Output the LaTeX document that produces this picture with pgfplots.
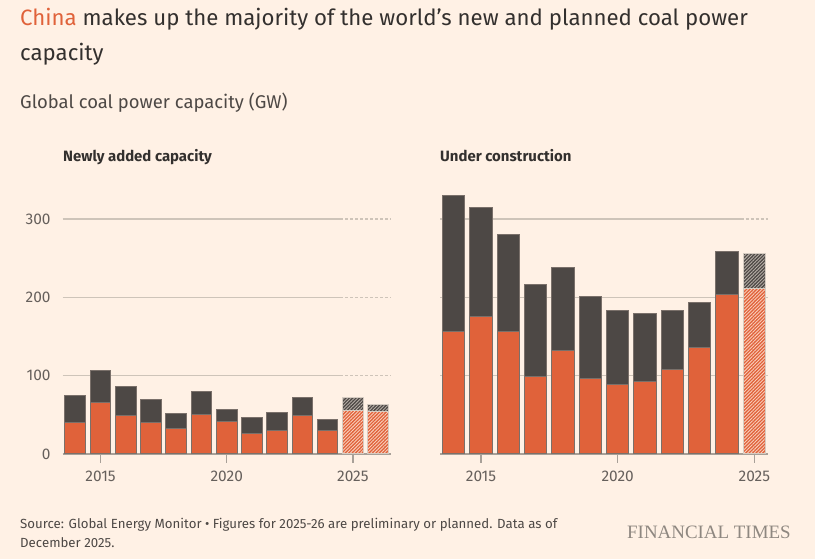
\documentclass[border=0pt]{standalone}
\usepackage{pgfplots}
\pgfplotsset{compat=1.18}
\usepackage{pgfplotstable}
\usepackage{fontspec}
\setmainfont{Fira Sans}
\newfontfamily\ftserif{Liberation Serif}
\usetikzlibrary{patterns.meta}

\definecolor{ftbg}{HTML}{FFF1E5}
\definecolor{china}{HTML}{E0623A}
\definecolor{rest}{HTML}{4D4845}
\definecolor{barline}{HTML}{7A706A}
\definecolor{planline}{HTML}{D6CCC2}
\definecolor{gridc}{HTML}{CEC4B9}
\definecolor{axisc}{HTML}{A8A098}
\definecolor{ticktext}{HTML}{66605C}
\definecolor{ink}{HTML}{33302E}
\definecolor{subink}{HTML}{4D4845}
\definecolor{orangestripe}{HTML}{F9CDB9}
\definecolor{greystripe}{HTML}{B5ADA6}
\definecolor{logo}{HTML}{8E8780}

% Newly added coal capacity (GW): China and world total
\pgfplotstableread{
year china total
2014 40.5 74.5
2015 66   107
2016 49   86.5
2017 40   69.5
2018 33   52
2019 50   79.5
2020 42   57
2021 26.5 47
2022 30   52.5
2023 49   71.5
2024 30.5 43.5
}\addedactual
\pgfplotstableread{
year china total
2025 55.5 72.5
2026 54.5 63.5
}\addedplanned

% Coal capacity under construction (GW)
\pgfplotstableread{
year china total
2014 156 330
2015 175 314.5
2016 156 280.5
2017 99  217
2018 132 238.5
2019 96  200.5
2020 88.5 183.5
2021 92  180
2022 108 183
2023 136 193
2024 203 258
}\constructionactual
\pgfplotstableread{
year china total
2025 211 256
}\constructionplanned

\pgfplotsset{
  panel/.style={
    scale only axis, width=328bp, height=262.4bp,
    xmin=2013.5, ymin=0, ymax=335,
    axis x line*=bottom, axis y line*=left,
    y axis line style={draw=none},
    x axis line style={draw=axisc, line width=1.3bp, -},
    xtick={2015,2020,2025}, ytick={0,100,200,300},
    tick align=outside,
    major tick length=8.7bp,
    x tick style={draw=axisc, line width=1.3bp},
    y tick style={draw=none},
    /pgf/number format/assume math mode=true,
    xticklabel style={font=\fontsize{15.5}{18}\selectfont, text=ticktext, yshift=-5bp,
      /pgf/number format/1000 sep={}},
    yticklabel style={font=\fontsize{15.5}{18}\selectfont, text=ticktext},
    clip=false,
  },
  actualbar/.style={ybar, bar width=0.82, bar shift=0pt, draw=barline, line width=1bp},
  plannedbar/.style={ybar, bar width=0.82, bar shift=0pt, draw=planline, line width=1bp,
    postaction={pattern={Lines[angle=45,distance=2.4bp,line width=0.9bp]}, pattern color=#1}},
}

\begin{document}
\begin{tikzpicture}
\fill[ftbg] (0,0) rectangle (815bp,559bp);

% Left panel: newly added capacity
\begin{axis}[panel, at={(62.7bp,105bp)}, anchor=south west, xmax=2026.5]
  \pgfplotsinvokeforeach{100,200,300}{
    \draw[gridc, line width=1.1bp] (axis cs:2013.5,#1) -- (axis cs:2024.5,#1);
    \draw[gridc, line width=1.1bp, dash pattern=on 3bp off 2bp] (axis cs:2024.5,#1) -- (axis cs:2026.5,#1);
  }
  \addplot[actualbar, fill=rest] table[x=year, y=total] {\addedactual};
  \addplot[actualbar, fill=china] table[x=year, y=china] {\addedactual};
  \addplot[plannedbar=greystripe, fill=rest] table[x=year, y=total] {\addedplanned};
  \addplot[plannedbar=orangestripe, fill=china] table[x=year, y=china] {\addedplanned};
\end{axis}

% Right panel: under construction
\begin{axis}[panel, at={(440bp,105bp)}, anchor=south west, xmax=2025.5, yticklabels={}]
  \pgfplotsinvokeforeach{100,200,300}{
    \draw[gridc, line width=1.1bp] (axis cs:2013.5,#1) -- (axis cs:2024.5,#1);
    \draw[gridc, line width=1.1bp, dash pattern=on 3bp off 2bp] (axis cs:2024.5,#1) -- (axis cs:2025.5,#1);
  }
  \addplot[actualbar, fill=rest] table[x=year, y=total] {\constructionactual};
  \addplot[actualbar, fill=china] table[x=year, y=china] {\constructionactual};
  \addplot[plannedbar=greystripe, fill=rest] table[x=year, y=total] {\constructionplanned};
  \addplot[plannedbar=orangestripe, fill=china] table[x=year, y=china] {\constructionplanned};
\end{axis}

% Headline, subtitle and panel titles
\node[anchor=base west, inner sep=0, text=ink, font=\fontsize{22.3}{26}\selectfont]
  at (20bp,533bp) {\textcolor{china}{China} makes up the majority of the world’s new and planned coal power};
\node[anchor=base west, inner sep=0, text=ink, font=\fontsize{22.3}{26}\selectfont]
  at (20bp,498bp) {capacity};
\node[anchor=base west, inner sep=0, text=subink, font=\fontsize{18.5}{22}\selectfont]
  at (20bp,450bp) {Global coal power capacity (GW)};
\node[anchor=base west, inner sep=0, text=ink, font=\fontsize{15}{18}\selectfont\bfseries]
  at (63bp,397bp) {Newly added capacity};
\node[anchor=base west, inner sep=0, text=ink, font=\fontsize{15}{18}\selectfont\bfseries]
  at (440bp,397bp) {Under construction};

% Footer
\node[anchor=base west, inner sep=0, text=subink, font=\fontsize{13.3}{16}\selectfont]
  at (20bp,31bp) {Source: Global Energy Monitor • Figures for 2025-26 are preliminary or planned. Data as of};
\node[anchor=base west, inner sep=0, text=subink, font=\fontsize{13.3}{16}\selectfont]
  at (20bp,12bp) {December 2025.};
\node[anchor=base west, inner sep=0, text=logo, font=\ftserif\fontsize{19}{22}\selectfont]
  at (627bp,21bp) {FINANCIAL TIMES};

\pgfresetboundingbox
\path (0,0) rectangle (815bp,559bp);
\end{tikzpicture}
\end{document}
